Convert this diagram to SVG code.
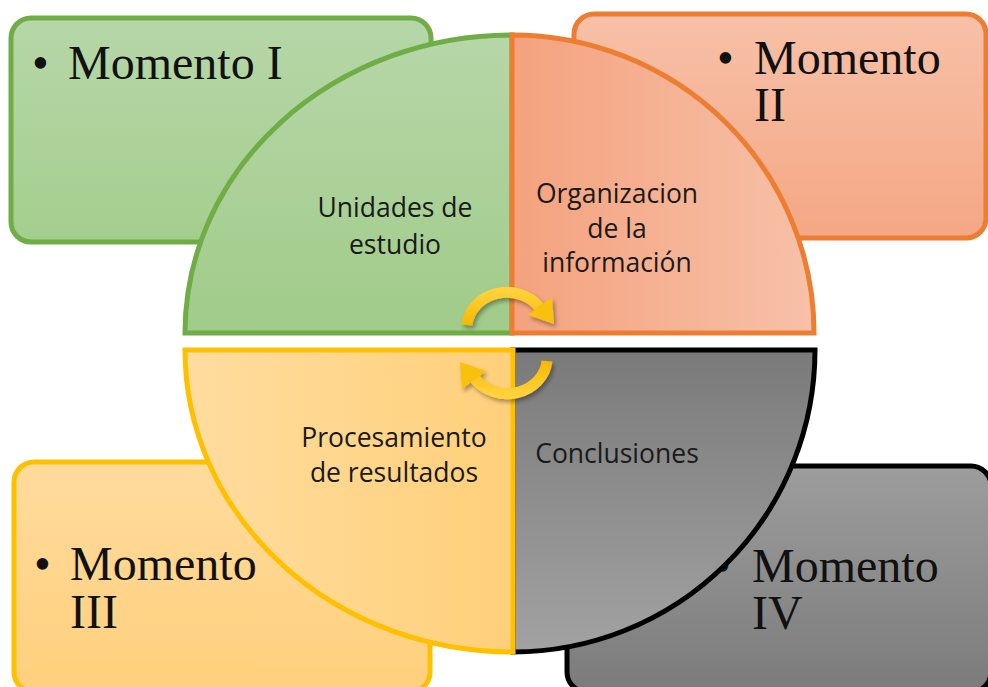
<svg xmlns="http://www.w3.org/2000/svg" width="988" height="687" viewBox="0 0 988 687">
<defs>
<linearGradient id="gBoxG" x1="0" y1="0" x2="0" y2="1"><stop offset="0" stop-color="#B6D7A8"/><stop offset="1" stop-color="#A4CE8E"/></linearGradient>
<linearGradient id="gBoxO" x1="0" y1="0" x2="0" y2="1"><stop offset="0" stop-color="#F7C1A8"/><stop offset="1" stop-color="#F4A784"/></linearGradient>
<linearGradient id="gBoxY" x1="0" y1="0" x2="0" y2="1"><stop offset="0" stop-color="#FFDB9D"/><stop offset="1" stop-color="#FFD07C"/></linearGradient>
<linearGradient id="gBoxK" x1="0" y1="0" x2="0" y2="1"><stop offset="0" stop-color="#9D9D9D"/><stop offset="1" stop-color="#7B7B7B"/></linearGradient>
<linearGradient id="gQG" x1="0" y1="0" x2="0" y2="1"><stop offset="0" stop-color="#B6D7A8"/><stop offset="1" stop-color="#A0CB89"/></linearGradient>
<linearGradient id="gQO" x1="0" y1="0" x2="1" y2="0"><stop offset="0" stop-color="#F4A27E"/><stop offset="1" stop-color="#F7C1A8"/></linearGradient>
<linearGradient id="gQY" x1="0" y1="0" x2="1" y2="0"><stop offset="0" stop-color="#FFDC9F"/><stop offset="1" stop-color="#FFD07A"/></linearGradient>
<linearGradient id="gQK" x1="0" y1="0" x2="0" y2="1"><stop offset="0" stop-color="#7A7A7A"/><stop offset="1" stop-color="#A2A2A2"/></linearGradient>
<linearGradient id="gArr" x1="0" y1="0" x2="0" y2="1"><stop offset="0" stop-color="#FFD23A"/><stop offset="1" stop-color="#F5B800"/></linearGradient>
<filter id="sh" x="-30%" y="-30%" width="160%" height="160%"><feDropShadow dx="2" dy="3" stdDeviation="2" flood-color="#000" flood-opacity="0.35"/></filter>
</defs>
<style>
.box{stroke-width:5}
.q{stroke-width:5;stroke-linejoin:miter}
.big{font-family:"Liberation Serif","Times New Roman",serif;font-size:48px;fill:#111}
.lbl{font-family:"Open Sans","Liberation Sans",sans-serif;font-size:26.5px;fill:#1a1a1a;text-anchor:middle}
.arr{fill:none;stroke:url(#gArr);stroke-width:11}
.ah{fill:#F9C10A}
</style>
<g id="box-momento-1">
<rect class="box" x="11" y="18" width="420" height="224" rx="20" fill="url(#gBoxG)" stroke="#70AD47"/>
<text class="big" x="32" y="79">•<tspan x="68">Momento I</tspan></text>
</g>
<g id="box-momento-2">
<rect class="box" x="574" y="14" width="412" height="224" rx="20" fill="url(#gBoxO)" stroke="#ED7D31"/>
<text class="big" x="717" y="74">•<tspan x="754">Momento</tspan><tspan x="754" y="121">II</tspan></text>
</g>
<g id="box-momento-3">
<rect class="box" x="14" y="462" width="416" height="230" rx="20" fill="url(#gBoxY)" stroke="#FFC000"/>
<text class="big" x="34" y="580">•<tspan x="70">Momento</tspan><tspan x="70" y="628">III</tspan></text>
</g>
<g id="box-momento-4">
<rect class="box" x="567" y="466" width="424" height="226" rx="20" fill="url(#gBoxK)" stroke="#000"/>
<text class="big" x="714" y="582">•<tspan x="752">Momento</tspan><tspan x="752" y="629">IV</tspan></text>
</g>
<g id="quad-unidades">
<path class="q" d="M512,333 L185,333 A327,298 0 0 1 512,35 Z" fill="url(#gQG)" stroke="#70AD47"/>
<text class="lbl" x="395" y="217">Unidades de</text>
<text class="lbl" x="395" y="254">estudio</text>
</g>
<g id="quad-organizacion">
<path class="q" d="M512,333 L512,35 A302,298 0 0 1 814,333 Z" fill="url(#gQO)" stroke="#ED7D31"/>
<text class="lbl" x="617" y="203">Organizacion</text>
<text class="lbl" x="617" y="238">de la</text>
<text class="lbl" x="617" y="272">información</text>
</g>
<g id="quad-conclusiones">
<path class="q" d="M513,350 L815,350 A302,302 0 0 1 513,652 Z" fill="url(#gQK)" stroke="#000"/>
<text class="lbl" x="617" y="463">Conclusiones</text>
</g>
<g id="quad-procesamiento">
<path class="q" d="M513,350 L513,652 A328,302 0 0 1 185,350 Z" fill="url(#gQY)" stroke="#FFC000"/>
<text class="lbl" x="394" y="447">Procesamiento</text>
<text class="lbl" x="394" y="482">de resultados</text>
</g>
<g id="connectors" filter="url(#sh)">
<g id="arrow-top">
<path class="arr" d="M467,325 A40,36 0 0 1 539,307"/>
<polygon class="ah" points="552,297 528,315 554,324"/>
</g>
<g id="arrow-bottom" transform="rotate(180 507 343)">
<path class="arr" d="M467,325 A40,36 0 0 1 539,307"/>
<polygon class="ah" points="552,297 528,315 554,324"/>
</g>
</g>
</svg>
